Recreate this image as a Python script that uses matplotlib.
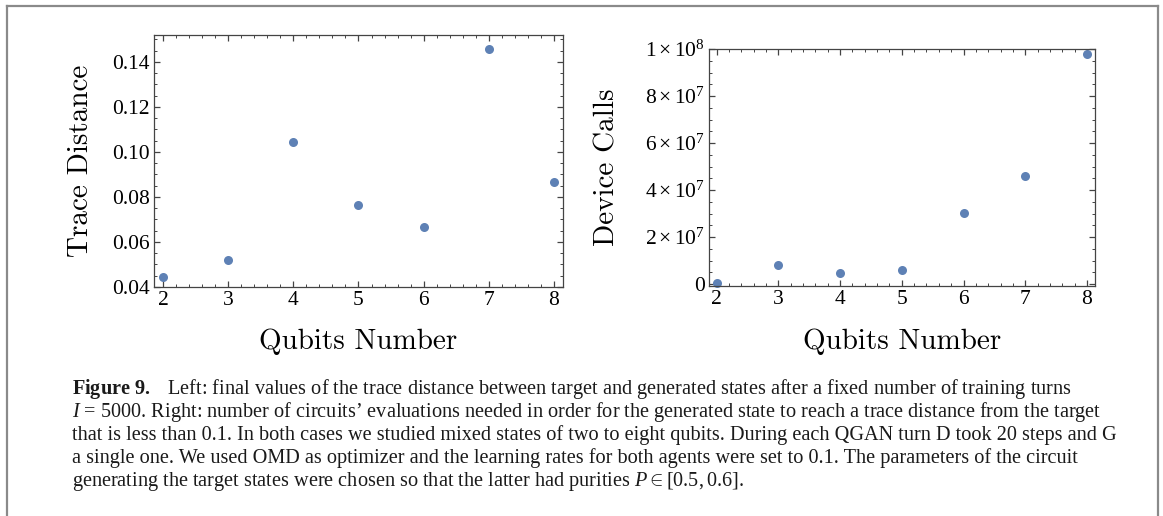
import matplotlib
matplotlib.use("Agg")
import matplotlib.pyplot as plt
from matplotlib.lines import Line2D
from matplotlib.ticker import MultipleLocator, FuncFormatter

plt.rcParams["mathtext.fontset"] = "custom"
plt.rcParams["mathtext.rm"] = "Liberation Serif"
plt.rcParams["mathtext.it"] = "Liberation Serif:italic"
plt.rcParams["mathtext.bf"] = "Liberation Serif:bold"
plt.rcParams["font.family"] = "Liberation Serif"

qubits = [2, 3, 4, 5, 6, 7, 8]
trace_distance = [0.0443, 0.0521, 0.1044, 0.0766, 0.0667, 0.1456, 0.0868]
device_calls = [3e5, 8.2e6, 4.6e6, 5.8e6, 3.03e7, 4.6e7, 9.8e7]

caption = [
    r"$\mathbf{Figure\ 9.}$   Left: final values of the trace distance between target and generated states after a fixed number of training turns",
    r"$I$ = 5000. Right: number of circuits’ evaluations needed in order for the generated state to reach a trace distance from the target",
    "that is less than 0.1. In both cases we studied mixed states of two to eight qubits. During each QGAN turn D took 20 steps and G",
    "a single one. We used OMD as optimizer and the learning rates for both agents were set to 0.1. The parameters of the circuit",
    r"generating the target states were chosen so that the latter had purities $P \in [0.5, 0.6]$.",
]

dot_color = "#5E81B5"
frame_color = "#444444"

fig = plt.figure(figsize=(11.63, 5.16), dpi=100)
ax1 = fig.add_axes([0.1324, 0.4438, 0.3517, 0.4884])
ax2 = fig.add_axes([0.6096, 0.4457, 0.3319, 0.4593])


def style(ax):
    for s in ax.spines.values():
        s.set_color(frame_color)
        s.set_linewidth(0.9)
    ax.tick_params(which="both", direction="in", top=True, right=True,
                   color=frame_color, labelsize=15.5, pad=3)
    ax.tick_params(which="major", length=4, width=0.9)
    ax.tick_params(which="minor", length=2.2, width=0.7)
    ax.xaxis.set_major_locator(MultipleLocator(1))
    ax.xaxis.set_minor_locator(MultipleLocator(0.2))


ax1.plot(qubits, trace_distance, "o", color=dot_color, markersize=6.5,
         markeredgewidth=0)
ax1.set_xlim(1.86, 8.14)
ax1.set_ylim(0.04, 0.152)
style(ax1)
ax1.yaxis.set_major_locator(MultipleLocator(0.02))
ax1.yaxis.set_minor_locator(MultipleLocator(0.005))
ax1.yaxis.set_major_formatter(FuncFormatter(lambda v, p: "%.2f" % v))
ax1.set_xlabel("Qubits Number", fontfamily="cmr10", fontsize=21)
ax1.set_ylabel("Trace Distance", fontfamily="cmr10", fontsize=21)
ax1.xaxis.set_label_coords(0.5, -0.218)
ax1.yaxis.set_label_coords(-0.178, 0.5)
ax1.xaxis.label.set_va("center")
ax1.yaxis.label.set_va("center")

ax2.plot(qubits, device_calls, "o", color=dot_color, markersize=6.5,
         markeredgewidth=0, clip_on=False)
ax2.set_xlim(1.875, 8.13)
ax2.set_ylim(-8.5e5, 1e8)
style(ax2)
ax2.yaxis.set_major_locator(MultipleLocator(2e7))
ax2.yaxis.set_minor_locator(MultipleLocator(5e6))


def sci(v, p):
    if abs(v) < 1:
        return "0"
    e = 7
    m = v / 10 ** e
    if m >= 10:
        e += 1
        m /= 10
    return r"$%d\times10^{%d}$" % (round(m), e)


ax2.yaxis.set_major_formatter(FuncFormatter(sci))
ax2.set_xlabel("Qubits Number", fontfamily="cmr10", fontsize=21)
ax2.set_ylabel("Device Calls", fontfamily="cmr10", fontsize=21)
ax2.xaxis.set_label_coords(0.5, -0.236)
ax2.yaxis.set_label_coords(-0.264, 0.5)
ax2.xaxis.label.set_va("center")
ax2.yaxis.label.set_va("center")

# caption
y0 = 1 - 394 / 516
for i, line in enumerate(caption):
    fig.text(72 / 1163, y0 - i * 23 / 516, line, fontsize=14.6, va="baseline",
             ha="left", color="#1a1a1a")

# border around the figure
gray = "#8a8a8a"
fig.add_artist(Line2D([7 / 1163, 7 / 1163], [0, 1 - 6 / 516], color=gray, lw=1.6))
fig.add_artist(Line2D([7 / 1163, 1158 / 1163], [1 - 6 / 516, 1 - 6 / 516], color=gray, lw=1.6))
fig.add_artist(Line2D([1158 / 1163, 1158 / 1163], [0, 1 - 6 / 516], color=gray, lw=1.6))

fig.savefig("out.png", dpi=100)
